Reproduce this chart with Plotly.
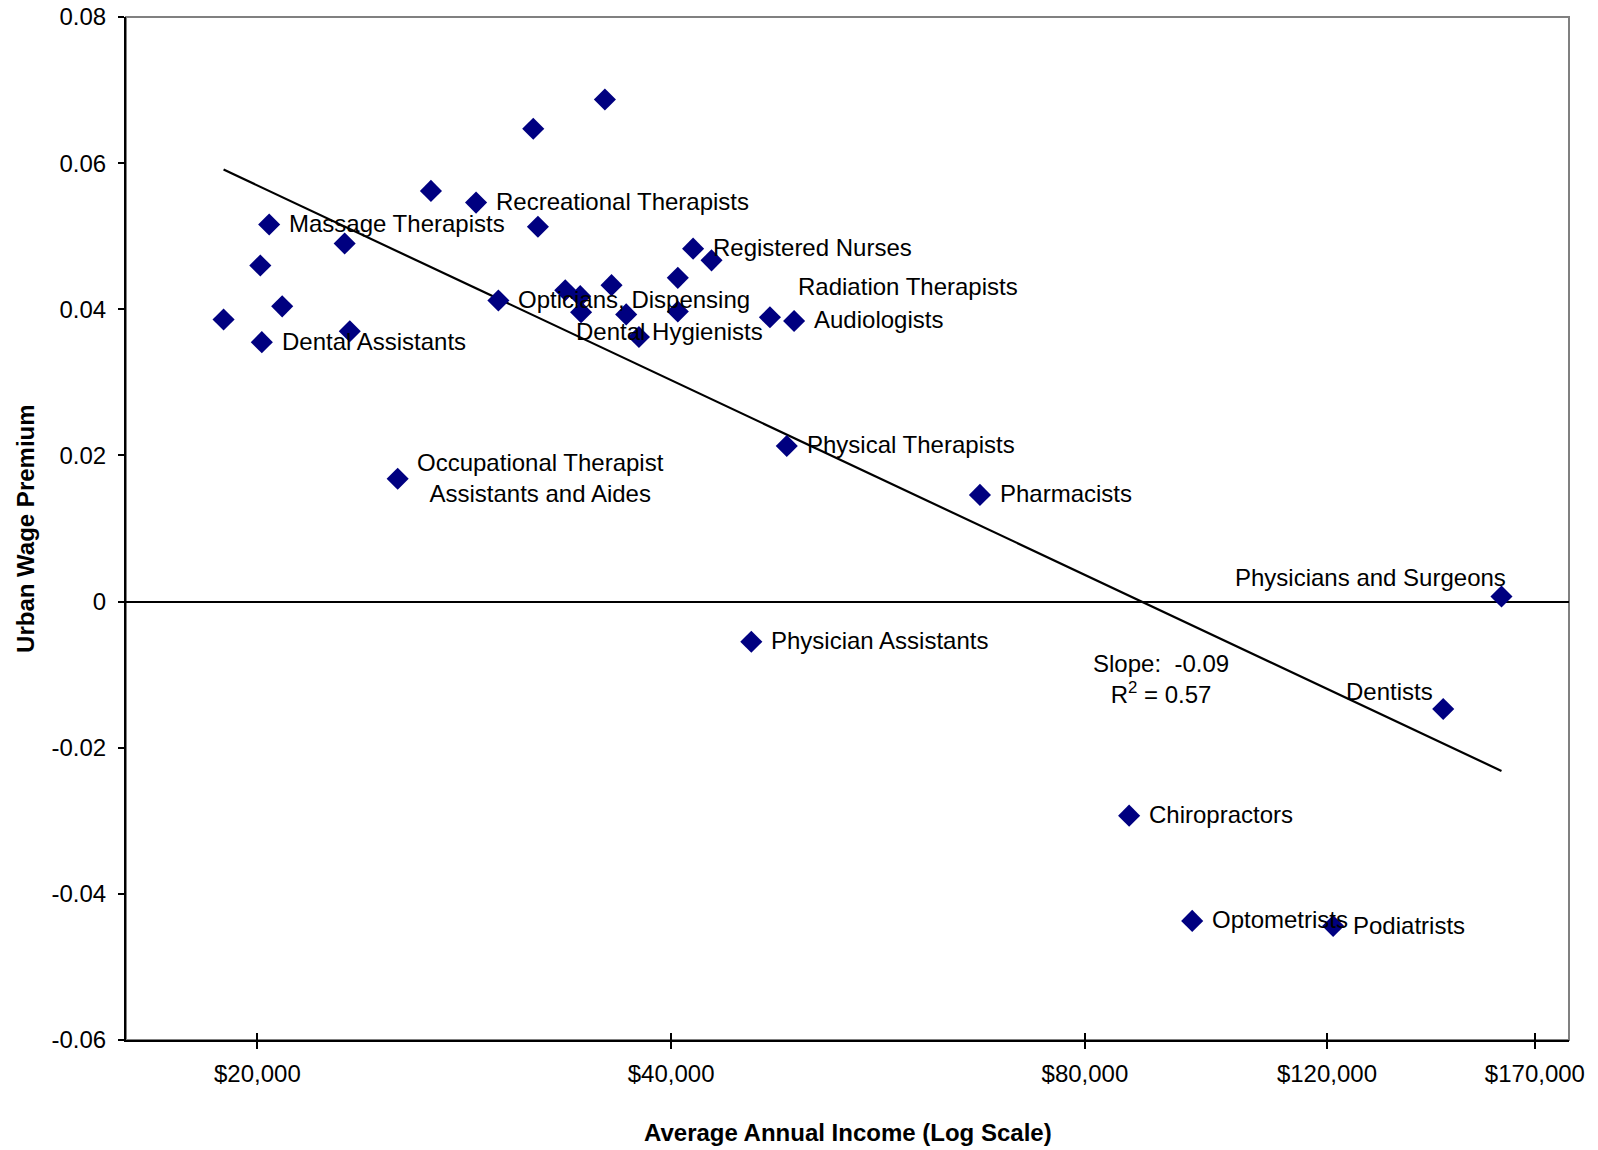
import numpy as np
import plotly.graph_objects as go

# Average annual income (USD) and urban wage premium by health occupation
income = [18900, 20100, 20150, 20400, 20850, 23150, 23350, 25300, 26750, 28850,
          29950, 31750, 32000, 33500, 34350, 34400, 35800, 36200, 37100, 37900,
          40450, 40450, 41500, 42800, 45750, 47200, 49150, 48550, 67100, 86150,
          95750, 121250, 145800, 160750]
premium = [0.0386, 0.0460, 0.0355, 0.0516, 0.0404, 0.0490, 0.0370, 0.0168, 0.0562, 0.0546,
           0.0412, 0.0647, 0.0513, 0.0426, 0.0418, 0.0396, 0.0687, 0.0433, 0.0393, 0.0362,
           0.0443, 0.0397, 0.0483, 0.0467, -0.0055, 0.0389, 0.0384, 0.0213, 0.0146, -0.0293,
           -0.0437, -0.0444, -0.0147, 0.0007]
occupation = ["", "", "Dental Assistants", "Massage Therapists", "", "", "",
              "Occupational Therapist<br>Assistants and Aides", "", "Recreational Therapists",
              "Opticians, Dispensing", "", "", "", "", "", "", "", "", "Dental Hygienists",
              "", "", "Registered Nurses", "", "Physician Assistants", "Radiation Therapists",
              "Audiologists", "Physical Therapists", "Pharmacists", "Chiropractors",
              "Optometrists", "Podiatrists", "Dentists", "Physicians and Surgeons"]

x_ticks = [20000, 40000, 80000, 120000, 170000]
x_tick_text = ["$20,000", "$40,000", "$80,000", "$120,000", "$170,000"]
y_ticks = [0.08, 0.06, 0.04, 0.02, 0, -0.02, -0.04, -0.06]
y_tick_text = ["0.08", "0.06", "0.04", "0.02", "0", "-0.02", "-0.04", "-0.06"]

FONT = "Liberation Sans, Arial, sans-serif"
NAVY = "#000080"

# label placement: (xanchor, xshift px, yshift px); default is to the right of the marker
label_style = {
    "Dental Hygienists": ("left", -65, 6),
    "Radiation Therapists": ("left", 26, 31),
    "Physicians and Surgeons": ("right", 7, 19),
    "Dentists": ("right", -8, 17),
    "Occupational Therapist<br>Assistants and Aides": ("center", 143, 1),
}

# least-squares fit of premium on log10(income)
log_inc = np.log10(income)
prem = np.array(premium)
slope, intercept = np.polyfit(log_inc, prem, 1)
pred = slope * log_inc + intercept
r2 = 1 - np.sum((prem - pred) ** 2) / np.sum((prem - prem.mean()) ** 2)
fit_x = np.array([log_inc.min(), log_inc.max()])
fit_y = slope * fit_x + intercept

x_range = [np.log10(16050), np.log10(180000)]

fig = go.Figure()
fig.add_trace(go.Scatter(
    x=10 ** fit_x, y=fit_y, mode="lines",
    line=dict(color="black", width=2.2), hoverinfo="skip", showlegend=False))
fig.add_trace(go.Scatter(
    x=income, y=premium, mode="markers",
    marker=dict(symbol="diamond", size=17, color=NAVY, line=dict(width=0)),
    showlegend=False))
# carrier trace for the overlay axis that draws the inward half of the x ticks
fig.add_trace(go.Scatter(x=[None], y=[None], xaxis="x2", yaxis="y",
                         showlegend=False, hoverinfo="skip"))

annotations = []
for xi, yi, name in zip(log_inc, premium, occupation):
    if not name:
        continue
    anchor, dx, dy = label_style.get(name, ("left", 18, 1))
    annotations.append(dict(
        x=xi, y=yi, xref="x", yref="y", text=name, showarrow=False,
        xanchor=anchor, yanchor="middle", xshift=dx, yshift=dy, align="center",
        font=dict(family=FONT, size=24, color="black")))

annotations.append(dict(
    x=0.7175, y=0.3531, xref="paper", yref="paper",
    text=f"Slope:&nbsp; {slope:.2f}<br>R<sup>2</sup> = {r2:.2f}",
    showarrow=False, xanchor="center", yanchor="middle", align="center",
    font=dict(family=FONT, size=24, color="black")))
annotations.append(dict(
    x=0.5, y=-0.0904, xref="paper", yref="paper",
    text="<b>Average Annual Income (Log Scale)</b>", showarrow=False,
    xanchor="center", yanchor="middle",
    font=dict(family=FONT, size=24, color="black")))
annotations.append(dict(
    x=-0.0697, y=0.5, xref="paper", yref="paper",
    text="<b>Urban Wage Premium</b>", showarrow=False, textangle=-90,
    xanchor="center", yanchor="middle",
    font=dict(family=FONT, size=24, color="black")))

fig.update_layout(
    width=1598, height=1150, autosize=False,
    margin=dict(l=126, r=29, t=17, b=110, autoexpand=False),
    paper_bgcolor="white", plot_bgcolor="white",
    font=dict(family=FONT, size=24, color="black"),
    showlegend=False,
    annotations=annotations,
    shapes=[dict(type="rect", xref="paper", yref="paper", x0=0, x1=1, y0=0, y1=1,
                 line=dict(color="#808080", width=2), layer="below")],
    xaxis=dict(
        type="log", range=x_range, showgrid=False, zeroline=False, automargin=False,
        showline=True, linecolor="black", linewidth=2,
        ticks="outside", ticklen=7, tickwidth=1.5, tickcolor="black",
        tickvals=x_ticks, ticktext=x_tick_text, ticklabelstandoff=4,
        tickfont=dict(family=FONT, size=24, color="black")),
    xaxis2=dict(
        type="log", range=x_range, overlaying="x", anchor="y", side="bottom",
        showgrid=False, zeroline=False, showline=False, automargin=False,
        ticks="inside", ticklen=7, tickwidth=1.5, tickcolor="black",
        tickvals=x_ticks, showticklabels=False),
    yaxis=dict(
        range=[-0.06, 0.08], showgrid=False, automargin=False,
        zeroline=True, zerolinecolor="black", zerolinewidth=2,
        showline=True, linecolor="black", linewidth=2,
        ticks="outside", ticklen=6, tickwidth=1.5, tickcolor="black",
        tickvals=y_ticks, ticktext=y_tick_text, ticklabelstandoff=7,
        tickfont=dict(family=FONT, size=24, color="black")),
)

fig.write_html("out.html")
